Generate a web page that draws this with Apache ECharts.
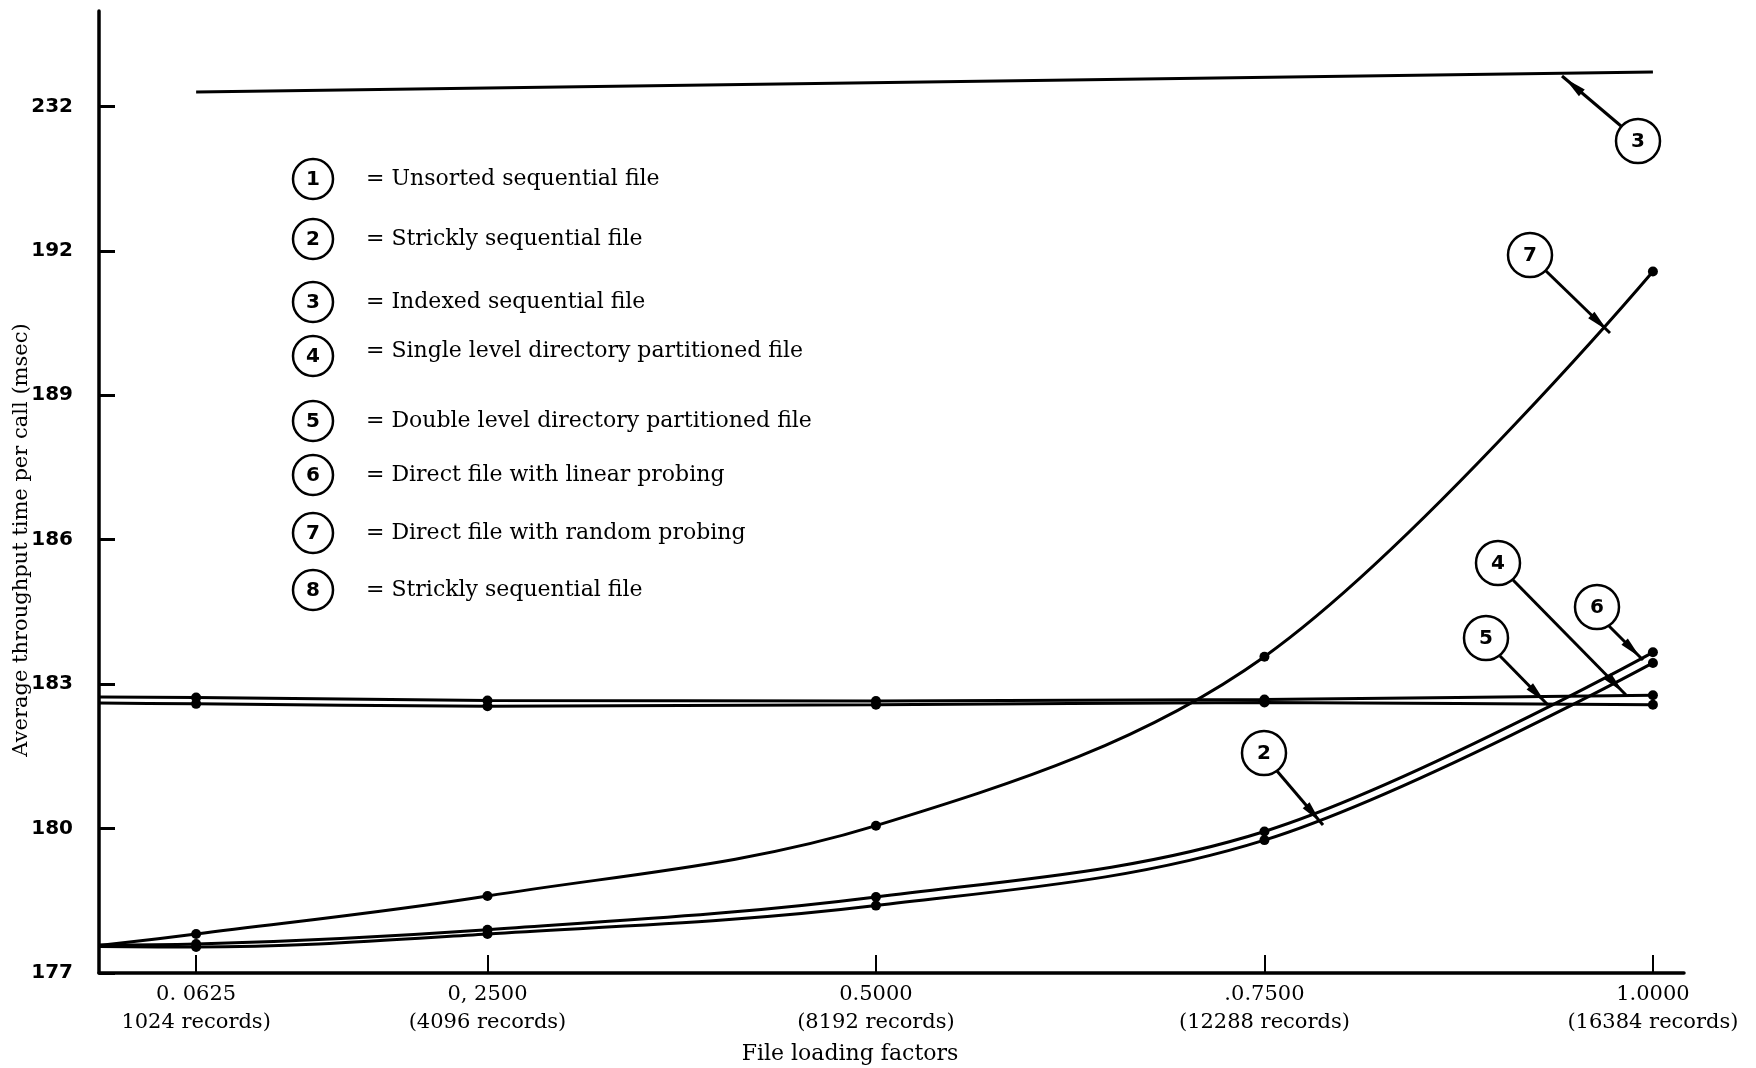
<!DOCTYPE html>
<html>
<head>
<meta charset="utf-8">
<script src="https://cdn.jsdelivr.net/npm/echarts@6/dist/echarts.min.js"></script>
<style>
  html, body { margin: 0; padding: 0; background: #fff; }
  #chart { width: 1756px; height: 1068px; }
</style>
</head>
<body>
<div id="chart"></div>
<script>
// File loading factors (horizontal axis)
const loadFactors = [0, 0.0625, 0.25, 0.5, 0.75, 1.0];
const tickFactors = [0.0625, 0.25, 0.5, 0.75, 1.0];
const tickFactorLabels = ['0. 0625', '0, 2500', '0.5000', '.0.7500', '1.0000'];
const tickRecordLabels = ['1024 records)', '(4096 records)', '(8192 records)', '(12288 records)', '(16384 records)'];

// Broken vertical scale: these tick values sit at equal spacing
const yTickValues = [177, 180, 183, 186, 189, 192, 232];

// Average throughput time per call (msec)
const strictlySequential = [177.55, 177.54, 177.81, 178.40, 179.76, 183.44];
const indexedSeqFactors = [0.0625, 1.0];
const indexedSequential = [236.0, 241.5];
const singleLevelDir = [182.73, 182.72, 182.66, 182.65, 182.68, 182.77];
const doubleLevelDir = [182.61, 182.59, 182.54, 182.57, 182.62, 182.57];
const linearProbing = [177.58, 177.60, 177.90, 178.58, 179.94, 183.66];
const randomProbing = [177.57, 177.81, 178.60, 180.06, 183.57, 191.57];

const legendNumbers = ['1', '2', '3', '4', '5', '6', '7', '8'];
const legendLabels = [
  '= Unsorted sequential file',
  '= Strickly sequential file',
  '= Indexed sequential file',
  '= Single level directory partitioned file',
  '= Double level directory partitioned file',
  '= Direct file with linear probing',
  '= Direct file with random probing',
  '= Strickly sequential file'
];

// Map a msec value onto the piecewise (broken) axis scale
function toScale(v) {
  const n = yTickValues.length;
  for (let i = 1; i < n; i++) {
    if (v <= yTickValues[i] || i === n - 1) {
      const a = yTickValues[i - 1], b = yTickValues[i];
      return (i - 1) + (v - a) / (b - a);
    }
  }
}

const SERIF = 'DejaVu Serif';
const SANS = 'DejaVu Sans';

function lineSeries(name, xs, ys, withDots, smooth) {
  return {
    name: name,
    type: 'line',
    smooth: smooth,
    animation: false,
    symbolSize: 10,
    showAllSymbol: true,
    lineStyle: { color: '#000', width: 3 },
    itemStyle: { color: '#000' },
    data: xs.map((x, i) => ({
      value: [x, toScale(ys[i])],
      symbol: (withDots && x > 0) ? 'circle' : 'none'
    }))
  };
}

const chart = echarts.init(document.getElementById('chart'), null, { renderer: 'canvas' });

// Callout: numbered circle with an arrow to a curve
function callout(num, cx, cy, x1, y1, x2, y2) {
  const dx = x2 - x1, dy = y2 - y1;
  const len = Math.hypot(dx, dy);
  const ux = dx / len, uy = dy / len;
  const px = -uy, py = ux;
  const L = 22, W = 4.5;
  const bx = x2 - ux * 4, by = y2 - uy * 4;
  return [
    { type: 'line', shape: { x1: x1, y1: y1, x2: x2, y2: y2 }, style: { stroke: '#000', lineWidth: 3 }, z: 10 },
    { type: 'polygon', shape: { points: [[bx, by], [bx - ux * L + px * W, by - uy * L + py * W], [bx - ux * L - px * W, by - uy * L - py * W]] }, style: { fill: '#000' }, z: 10 },
    { type: 'circle', shape: { cx: cx, cy: cy, r: 22 }, style: { fill: '#fff', stroke: '#000', lineWidth: 2.5 }, z: 11 },
    { type: 'text', x: cx, y: cy + 1, style: { text: num, font: 'bold 20px ' + SANS, fill: '#000', align: 'center', verticalAlign: 'middle' }, z: 12 }
  ];
}

const legendRowsY = [179, 239, 302, 356, 421, 475, 533, 590];
const legendGraphics = [];
legendNumbers.forEach((n, i) => {
  const cy = legendRowsY[i];
  legendGraphics.push(
    { type: 'circle', shape: { cx: 313, cy: cy, r: 20 }, style: { fill: '#fff', stroke: '#000', lineWidth: 2.5 } },
    { type: 'text', x: 313, y: cy + 1, style: { text: n, font: 'bold 20px ' + SANS, fill: '#000', align: 'center', verticalAlign: 'middle' } },
    { type: 'text', x: 366, y: cy - (i === 3 ? 5 : 0), style: { text: legendLabels[i], font: '22px ' + SERIF, fill: '#000', align: 'left', verticalAlign: 'middle' } }
  );
});

const calloutGraphics = [].concat(
  callout('3', 1638, 141, 1621, 126, 1562, 76),
  callout('7', 1530, 255, 1546, 271, 1610, 333),
  callout('4', 1498, 563, 1513, 580, 1626, 695),
  callout('6', 1597, 607, 1608, 625, 1643, 660),
  callout('5', 1486, 638, 1500, 656, 1548, 705),
  callout('2', 1264, 753, 1277, 771, 1323, 825)
);

const yTickPositions = yTickValues.map(toScale);

const option = {
  backgroundColor: '#fff',
  animation: false,
  grid: { left: 99, right: 72, top: 11, bottom: 95, containLabel: false },
  xAxis: {
    type: 'value',
    min: 0,
    max: 1.02,
    axisLine: { show: true, lineStyle: { color: '#000', width: 3.5 } },
    axisTick: { show: true, inside: true, length: 18, lineStyle: { color: '#000', width: 2 }, customValues: tickFactors },
    axisLabel: {
      customValues: tickFactors,
      margin: 8,
      color: '#000',
      fontFamily: SERIF,
      fontSize: 21,
      lineHeight: 28,
      formatter: function (v) {
        const idx = tickFactors.findIndex(t => Math.abs(t - v) < 1e-6);
        if (idx < 0) return '';
        return tickFactorLabels[idx] + '\n' + tickRecordLabels[idx];
      }
    },
    splitLine: { show: false }
  },
  yAxis: {
    type: 'value',
    min: 0,
    max: 6.66,
    axisLine: { show: true, onZero: false, lineStyle: { color: '#000', width: 3.5 } },
    axisTick: { show: true, inside: true, length: 16, lineStyle: { color: '#000', width: 3 }, customValues: yTickPositions },
    axisLabel: {
      customValues: yTickPositions,
      margin: 26,
      color: '#000',
      fontFamily: SANS,
      fontSize: 20,
      fontWeight: 'bold',
      formatter: function (v) {
        const idx = yTickPositions.findIndex(t => Math.abs(t - v) < 1e-6);
        return idx < 0 ? '' : String(yTickValues[idx]);
      }
    },
    splitLine: { show: false }
  },
  series: [
    lineSeries('Strickly sequential file', loadFactors, strictlySequential, true, 0.35),
    lineSeries('Indexed sequential file', indexedSeqFactors, indexedSequential, false, false),
    lineSeries('Single level directory partitioned file', loadFactors, singleLevelDir, true, 0.1),
    lineSeries('Double level directory partitioned file', loadFactors, doubleLevelDir, true, 0.1),
    lineSeries('Direct file with linear probing', loadFactors, linearProbing, true, 0.35),
    lineSeries('Direct file with random probing', loadFactors, randomProbing, true, 0.35)
  ],
  graphic: [].concat(
    legendGraphics,
    calloutGraphics,
    [
      { type: 'text', x: 22, y: 540, rotation: Math.PI / 2,
        style: { text: 'Average throughput time per call (msec)', font: '21px ' + SERIF, fill: '#000', align: 'center', verticalAlign: 'middle' } },
      { type: 'text', x: 850, y: 1054,
        style: { text: 'File loading factors', font: '22px ' + SERIF, fill: '#000', align: 'center', verticalAlign: 'middle' } }
    ]
  )
};

chart.setOption(option);
</script>
</body>
</html>
